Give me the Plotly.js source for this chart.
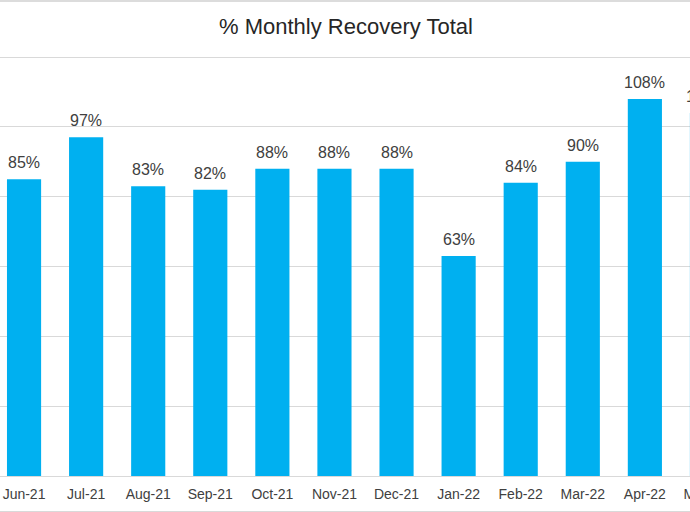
<!DOCTYPE html>
<html>
<head>
<meta charset="utf-8">
<script src="https://cdn.plot.ly/plotly-3.0.1.min.js"></script>
<style>
  html, body { margin: 0; padding: 0; width: 690px; height: 512px; overflow: hidden; background: #fff; }
  #wrap { position: relative; width: 690px; height: 512px; overflow: hidden; }
  #chart { position: absolute; left: -59.5px; top: 0; }
  #frame { position: absolute; left: 0; top: 0; width: 690px; height: 512px; box-sizing: border-box;
           border-top: 2px solid #dcdcdc; border-bottom: 1px solid #d9d9d9; pointer-events: none; }
</style>
</head>
<body>
<div id="wrap">
  <div id="chart"></div>
  <div id="frame"></div>
</div>
<script>
const months = ["Jun-21","Jul-21","Aug-21","Sep-21","Oct-21","Nov-21","Dec-21","Jan-22","Feb-22","Mar-22","Apr-22","May-22"];
const recovery = [85, 97, 83, 82, 88, 88, 88, 63, 84, 90, 108, 104];
const labels = recovery.map(v => v + "%");

const annotations = months.map((m, i) => ({
  x: m, y: recovery[i], xref: "x", yref: "y",
  text: labels[i], showarrow: false, yanchor: "bottom", yshift: 6,
  font: { family: "Liberation Sans, Arial, sans-serif", size: 16, color: "#404040" }
}));

const trace = {
  type: "bar",
  x: months,
  y: recovery,
  marker: { color: "#00B0F0" },
  width: 0.55,
  hoverinfo: "skip"
};

const layout = {
  width: 817, height: 512,
  margin: { l: 52, r: 20, t: 56, b: 36 },
  paper_bgcolor: "#ffffff", plot_bgcolor: "#ffffff",
  showlegend: false,
  title: {
    text: "% Monthly Recovery Total",
    xref: "container", x: 405 / 817, xanchor: "center",
    yref: "container", y: 1 - 26 / 512, yanchor: "middle",
    font: { family: "Liberation Sans, Arial, sans-serif", size: 22, color: "#262626" }
  },
  xaxis: {
    type: "category",
    range: [-0.5, 11.5],
    showgrid: false,
    showline: true, linecolor: "#d9d9d9", linewidth: 1,
    ticks: "", ticklabelstandoff: 5,
    tickfont: { family: "Liberation Sans, Arial, sans-serif", size: 14, color: "#404040" },
    fixedrange: true
  },
  yaxis: {
    range: [0, 120.3], dtick: 20,
    showgrid: true, gridcolor: "#d9d9d9", gridwidth: 1,
    zeroline: false, showline: false,
    showticklabels: false,
    fixedrange: true
  },
  annotations: annotations,
  bargap: 0.45
};

Plotly.newPlot("chart", [trace], layout, { displayModeBar: false, staticPlot: true });
</script>
</body>
</html>
